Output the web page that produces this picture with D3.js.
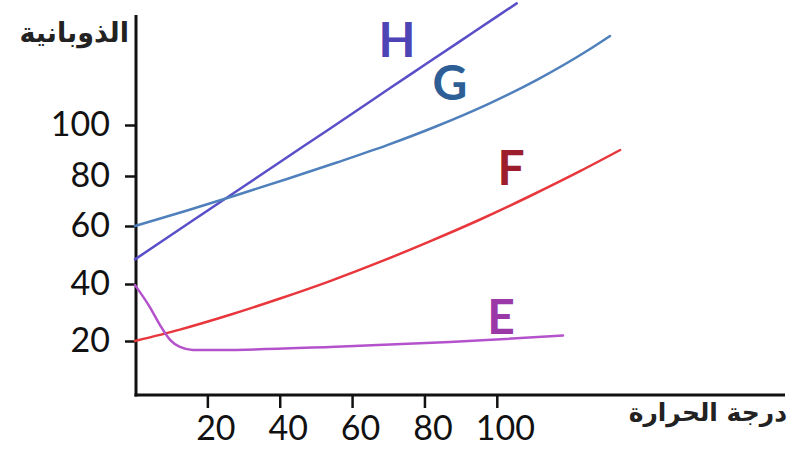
<!DOCTYPE html>
<html><head><meta charset="utf-8">
<script src="https://cdn.jsdelivr.net/npm/d3@7"></script>
<style>body{margin:0;background:#fff}svg{display:block}</style>
</head><body>
<svg id="c" width="792" height="453"></svg>
<script>
// ---- data ----
const xTicks = [20, 40, 60, 80, 100];
const yTicks = [20, 40, 60, 80, 100];
const yTitle = "الذوبانية";
const xTitle = "درجة الحرارة";
const seriesNames = ["H", "G", "F", "E"];
const hX = [0, 10, 20, 30, 40, 50, 60, 70, 80, 90, 100, 105.5];
const hY = [48.5, 56.9, 66.1, 75.8, 85.4, 94.9, 104.4, 114.0, 123.5, 133.0, 142.5, 147.7];
const gX = [0, 14.4, 28.2, 42.0, 55.8, 69.7, 83.5, 97.3, 111.1, 125.0, 131.3];
const gY = [60, 66.2, 72.4, 78.8, 85.3, 92.1, 99.6, 108.0, 117.7, 129.1, 134.9];
const fX = [0, 12.4, 26.3, 40.1, 53.9, 67.7, 81.5, 95.4, 109.2, 123.0, 134.1];
const fY = [20, 24.0, 29.2, 34.9, 41.0, 47.6, 54.7, 62.6, 72.0, 81.9, 90.2];
const eX = [0, 4.1, 6.9, 9.7, 12.4, 16, 23.5, 53.9, 87, 118.3];
const eY = [39.6, 31.9, 25.6, 20.4, 17.8, 16.7, 16.7, 17.8, 19.6, 21.9];

const svg = d3.select("#c");
const x = d3.scaleLinear().domain([0, 100]).range([135, 496.8]);
const y = d3.scaleLinear().domain([0, 20, 40, 60, 80, 100]).range([395, 341, 284, 226, 176, 125]);

// axes
const axisColor = "#111";
svg.append("line").attr("x1", 136).attr("x2", 136).attr("y1", 15).attr("y2", 396.5)
  .attr("stroke", axisColor).attr("stroke-width", 3);
svg.append("line").attr("x1", 134.5).attr("x2", 785).attr("y1", 395).attr("y2", 395)
  .attr("stroke", axisColor).attr("stroke-width", 3);

const yAxis = d3.axisLeft(y).tickValues(yTicks).tickSize(11).tickPadding(15);
const gy = svg.append("g").attr("transform", "translate(136,0)").call(yAxis);
gy.select(".domain").remove();
gy.selectAll(".tick line").attr("stroke", axisColor).attr("stroke-width", 2.5);
gy.selectAll(".tick text").attr("font-family", "Lato, 'Open Sans', sans-serif")
  .attr("font-size", 34).attr("fill", "#111");

const xAxis = d3.axisBottom(x).tickValues(xTicks).tickSize(12).tickPadding(8);
const gx = svg.append("g").attr("transform", "translate(0,396)").call(xAxis);
gx.select(".domain").remove();
gx.selectAll(".tick line").attr("stroke", axisColor).attr("stroke-width", 2.5);
gx.selectAll(".tick text").attr("font-family", "Lato, 'Open Sans', sans-serif")
  .attr("font-size", 34).attr("fill", "#111").attr("dx", 8);

// titles
svg.append("text").attr("x", 129).attr("y", 42).attr("text-anchor", "end")
  .attr("font-family", "'DejaVu Sans', sans-serif").attr("font-weight", "bold")
  .attr("font-size", 27).attr("fill", "#222").text(yTitle);
svg.append("text").attr("x", 787).attr("y", 421).attr("text-anchor", "end")
  .attr("font-family", "'DejaVu Sans', sans-serif").attr("font-weight", "bold")
  .attr("font-size", 25).attr("fill", "#222").text(xTitle);

// series
const series = [
  {name: "H", xs: hX, ys: hY, stroke: "#5a4fc8", text: "#4e44b6", lx: 397, ly: 57},
  {name: "G", xs: gX, ys: gY, stroke: "#4f80bc", text: "#2d5e96", lx: 450, ly: 100},
  {name: "F", xs: fX, ys: fY, stroke: "#e8373c", text: "#9c1d2b", lx: 511, ly: 185},
  {name: "E", xs: eX, ys: eY, stroke: "#b452cc", text: "#9a38a8", lx: 501, ly: 334}
];
const line = d3.line().x(d => x(d[0])).y(d => y(d[1])).curve(d3.curveMonotoneX);
series.forEach(s => {
  const pts = s.xs.map((v, i) => [v, s.ys[i]]);
  svg.append("path").datum(pts).attr("d", line).attr("fill", "none")
    .attr("stroke", s.stroke).attr("stroke-width", 2.5).attr("stroke-linecap", "round");
  svg.append("text").attr("x", s.lx).attr("y", s.ly).attr("text-anchor", "middle")
    .attr("font-family", "Lato, 'Open Sans', sans-serif").attr("font-weight", "bold")
    .attr("font-size", 48).attr("fill", s.text).text(s.name);
});
</script>
</body></html>
